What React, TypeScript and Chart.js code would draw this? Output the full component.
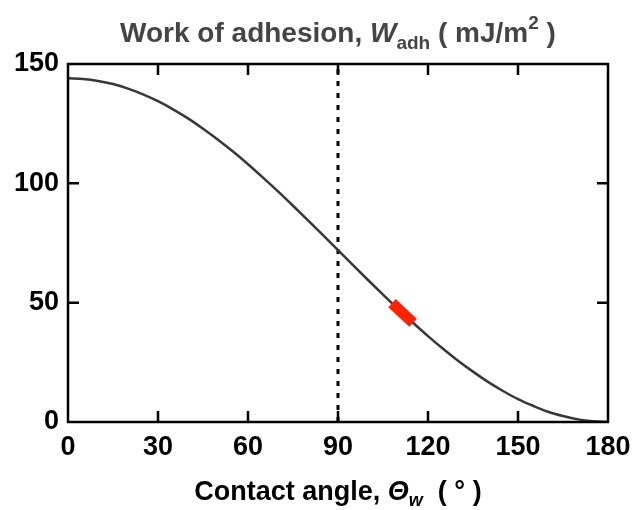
import React, { useEffect, useRef } from "react";
import { Chart, registerables } from "chart.js";

Chart.register(...registerables);

// Contact angle (degrees)
const angles = [0, 5, 10, 15, 20, 25, 30, 35, 40, 45, 50, 55, 60, 65, 70, 75, 80, 85, 90,
  95, 100, 105, 110, 115, 120, 125, 130, 135, 140, 145, 150, 155, 160, 165, 170, 175, 180];
// Work of adhesion (mJ/m^2)
const wadh = [144, 143.7, 142.9, 141.6, 139.7, 137.3, 134.4, 131.0, 127.2, 122.9, 118.3, 113.3, 108,
  102.4, 96.6, 90.6, 84.5, 78.3, 72, 65.7, 59.5, 53.4, 47.4, 41.6, 36, 30.7, 25.7, 21.1, 16.8,
  13.0, 9.6, 6.8, 4.3, 2.5, 1.1, 0.3, 0];
// highlighted segment (red marker)
const markerX = [108, 115];
const markerY = [49.8, 41.6];
// vertical reference line
const refX = [90, 90];
const refY = [0, 150];

const xTicks = [0, 30, 60, 90, 120, 150, 180];
const yTicks = [0, 50, 100, 150];

const FONT = '"Liberation Sans", Arial, sans-serif';

type Part = { text: string; size: number; italic?: boolean; dy?: number };

function drawRich(ctx: CanvasRenderingContext2D, parts: Part[], cx: number, baseline: number, color: string) {
  const fontOf = (p: Part) => `${p.italic ? "italic " : ""}bold ${p.size}px ${FONT}`;
  let total = 0;
  for (const p of parts) {
    ctx.font = fontOf(p);
    total += ctx.measureText(p.text).width;
  }
  let x = cx - total / 2;
  ctx.fillStyle = color;
  ctx.textBaseline = "alphabetic";
  ctx.textAlign = "left";
  for (const p of parts) {
    ctx.font = fontOf(p);
    ctx.fillText(p.text, x, baseline + (p.dy || 0));
    x += ctx.measureText(p.text).width;
  }
}

const framePlugin = {
  id: "frame",
  afterDraw(chart: any) {
    const { ctx, chartArea } = chart;
    const { left, right, top, bottom } = chartArea;
    const xs = chart.scales.x;
    const ys = chart.scales.y;
    ctx.save();
    ctx.strokeStyle = "#000";
    ctx.lineWidth = 2.5;
    ctx.strokeRect(left, top, right - left, bottom - top);
    const tl = 11;
    ctx.beginPath();
    for (const v of xTicks.slice(1, -1)) {
      const px = xs.getPixelForValue(v);
      ctx.moveTo(px, bottom);
      ctx.lineTo(px, bottom - tl);
      ctx.moveTo(px, top);
      ctx.lineTo(px, top + tl);
    }
    for (const v of yTicks.slice(1, -1)) {
      const py = ys.getPixelForValue(v);
      ctx.moveTo(left, py);
      ctx.lineTo(left + tl, py);
      ctx.moveTo(right, py);
      ctx.lineTo(right - tl, py);
    }
    ctx.stroke();

    const cx = (left + right) / 2;
    drawRich(ctx, [
      { text: "Work of adhesion, ", size: 28 },
      { text: "W", size: 28, italic: true },
      { text: "adh", size: 19, dy: 7 },
      { text: " ( mJ/m", size: 28 },
      { text: "2", size: 19, dy: -13 },
      { text: " )", size: 28 },
    ], cx, 42, "#454545");
    drawRich(ctx, [
      { text: "Contact angle, ", size: 27 },
      { text: "Θ", size: 27, italic: true },
      { text: "w", size: 18, italic: true, dy: 6 },
      { text: "  ( ° )", size: 27 },
    ], cx, 500, "#000");
    ctx.restore();
  },
};

export default function App() {
  const ref = useRef<HTMLCanvasElement>(null);
  useEffect(() => {
    if (!ref.current) return;
    const chart = new Chart(ref.current, {
      type: "line",
      data: {
        datasets: [
          {
            data: angles.map((a, i) => ({ x: a, y: wadh[i] })),
            borderColor: "#383838",
            borderWidth: 2.5,
            pointRadius: 0,
            cubicInterpolationMode: "monotone",
            order: 2,
          },
          {
            data: refX.map((a, i) => ({ x: a, y: refY[i] })),
            borderColor: "#000",
            borderWidth: 3,
            borderDash: [5, 7],
            pointRadius: 0,
            order: 3,
          },
          {
            data: markerX.map((a, i) => ({ x: a, y: markerY[i] })),
            borderColor: "#ff2200",
            borderWidth: 11,
            borderCapStyle: "butt",
            pointRadius: 0,
            order: 1,
          },
        ],
      },
      options: {
        animation: false,
        responsive: false,
        devicePixelRatio: 1,
        layout: { padding: { left: 0, right: 33, top: 64, bottom: 0 } },
        plugins: { legend: { display: false }, tooltip: { enabled: false }, title: { display: false } },
        scales: {
          x: {
            type: "linear",
            min: 0,
            max: 180,
            afterFit: (s: any) => { s.height = 88; },
            afterBuildTicks: (s: any) => { s.ticks = xTicks.map((v) => ({ value: v })); },
            grid: { display: false, drawTicks: false },
            border: { display: false },
            ticks: { color: "#000", font: { family: FONT, size: 27, weight: "bold" }, padding: 9, maxRotation: 0 },
          },
          y: {
            type: "linear",
            min: 0,
            max: 150,
            afterFit: (s: any) => { s.width = 68; },
            afterBuildTicks: (s: any) => { s.ticks = yTicks.map((v) => ({ value: v })); },
            grid: { display: false, drawTicks: false },
            border: { display: false },
            ticks: { color: "#000", font: { family: FONT, size: 27, weight: "bold" }, padding: 9 },
          },
        },
      },
      plugins: [framePlugin],
    } as any);
    return () => chart.destroy();
  }, []);
  return (
    <div style={{ position: "fixed", left: 0, top: 0, width: 641, height: 510, background: "#fff" }}>
      <canvas ref={ref} width={641} height={510} />
    </div>
  );
}
